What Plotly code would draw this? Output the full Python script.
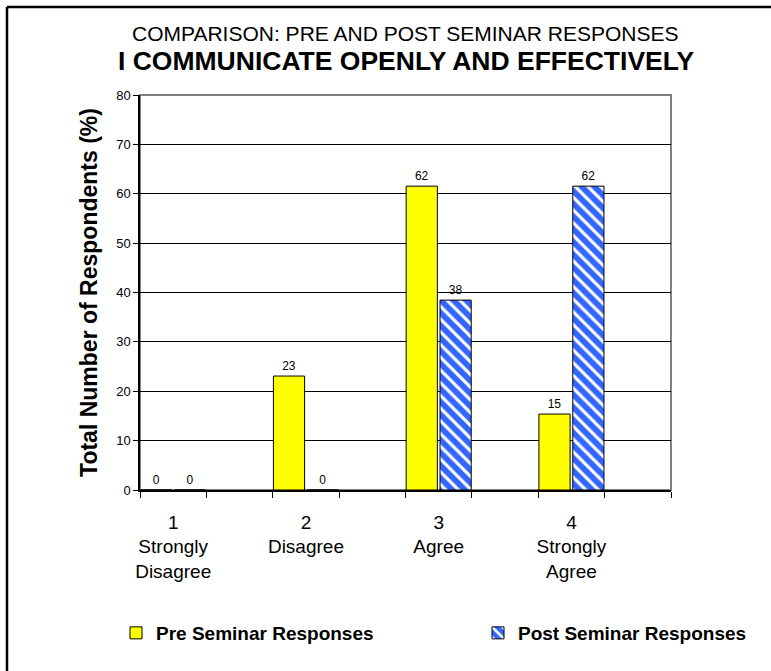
import plotly.graph_objects as go

# Survey answers (percent of respondents) before and after the seminar
categories = ["1<br>Strongly<br>Disagree", "2<br>Disagree", "3<br>Agree", "4<br>Strongly<br>Agree"]
pre_values = [0, 23.08, 61.54, 15.38]
post_values = [0, 0, 38.46, 61.54]
y_ticks = [0, 10, 20, 30, 40, 50, 60, 70, 80]

FONT = "Arial, Liberation Sans, sans-serif"
W, H = 771, 671
ML, MR, MT, MB = 140, 100, 95, 181

# each category occupies two slots on a 0..8 axis; the pair of bars sits on the first slot
xpos = [2 * i + 0.5 for i in range(len(categories))]

pw, ph = W - ML - MR, H - MT - MB


def px_to_paper_x(px):
    return (px - ML) / pw


def px_to_paper_y(py):
    return (H - MB - py) / ph


fig = go.Figure()
fig.add_trace(go.Bar(
    name="Pre Seminar Responses",
    x=xpos, y=pre_values,
    offset=-0.49, width=0.47,
    marker=dict(color="#FFFF00", line=dict(color="black", width=1)),
    texttemplate="%{y:.0f}", textposition="outside",
    textfont=dict(family=FONT, size=12, color="black"),
    cliponaxis=False,
    legend="legend",
))
fig.add_trace(go.Bar(
    name="Post Seminar Responses",
    x=xpos, y=post_values,
    offset=0.02, width=0.47,
    marker=dict(
        color="#3366FF",
        line=dict(color="black", width=1),
        pattern=dict(shape="\\", fillmode="replace", bgcolor="#3366FF",
                     fgcolor="white", size=9, solidity=0.35),
    ),
    texttemplate="%{y:.0f}", textposition="outside",
    textfont=dict(family=FONT, size=12, color="black"),
    cliponaxis=False,
    legend="legend2",
))

border_left, border_top = px_to_paper_x(7), px_to_paper_y(7)
shapes = [
    # plot-area frame
    dict(type="rect", xref="paper", yref="paper", x0=0, x1=1, y0=0, y1=1,
         line=dict(color="#808080", width=2), layer="below"),
    # outer chart border (left and top edges inside the page)
    dict(type="line", xref="paper", yref="paper",
         x0=border_left, x1=border_left, y0=px_to_paper_y(H), y1=border_top,
         line=dict(color="black", width=2.5)),
    dict(type="line", xref="paper", yref="paper",
         x0=border_left, x1=px_to_paper_x(W), y0=border_top, y1=border_top,
         line=dict(color="black", width=2.5)),
]

annotations = [
    dict(text="COMPARISON: PRE AND POST SEMINAR RESPONSES",
         xref="paper", yref="paper", x=px_to_paper_x(405), y=px_to_paper_y(33),
         xanchor="center", yanchor="middle", showarrow=False,
         font=dict(family=FONT, size=21, color="black")),
    dict(text="<b>I COMMUNICATE OPENLY AND EFFECTIVELY</b>",
         xref="paper", yref="paper", x=px_to_paper_x(406), y=px_to_paper_y(61),
         xanchor="center", yanchor="middle", showarrow=False,
         font=dict(family=FONT, size=26.5, color="black")),
]

legend_style = dict(
    orientation="h",
    xref="container", yref="container",
    yanchor="middle", y=(H - 633) / H,
    xanchor="left",
    font=dict(family=FONT, size=19, color="black", weight="bold"),
    bgcolor="rgba(0,0,0,0)",
)

fig.update_layout(
    width=W, height=H,
    margin=dict(l=ML, r=MR, t=MT, b=MB, autoexpand=False),
    paper_bgcolor="white", plot_bgcolor="white",
    font=dict(family=FONT, color="black"),
    barmode="overlay",
    showlegend=True,
    legend=dict(legend_style, x=116 / W),
    legend2=dict(legend_style, x=478 / W),
    shapes=shapes,
    annotations=annotations,
)

fig.update_xaxes(
    range=[0, 8],
    tickmode="array", tickvals=xpos, ticktext=categories,
    ticks="", tickfont=dict(family=FONT, size=19, color="black"),
    showline=True, linecolor="black", linewidth=1.5,
    showgrid=False, zeroline=False,
    minor=dict(tickmode="linear", tick0=0, dtick=1, ticks="outside",
               ticklen=6, tickcolor="black", tickwidth=1, showgrid=False),
    ticklabelstandoff=14,
    fixedrange=True,
)
fig.update_yaxes(
    range=[0, 80],
    tickmode="array", tickvals=y_ticks,
    ticks="outside", ticklen=5, tickcolor="black",
    tickfont=dict(family=FONT, size=13, color="black"),
    showline=True, linecolor="black", linewidth=1.5,
    showgrid=True, gridcolor="black", gridwidth=1,
    zeroline=False,
    title=dict(text="<b>Total Number of Respondents (%)</b>",
               font=dict(family=FONT, size=23, color="black"), standoff=12),
    fixedrange=True,
)

fig.write_html("out.html")
